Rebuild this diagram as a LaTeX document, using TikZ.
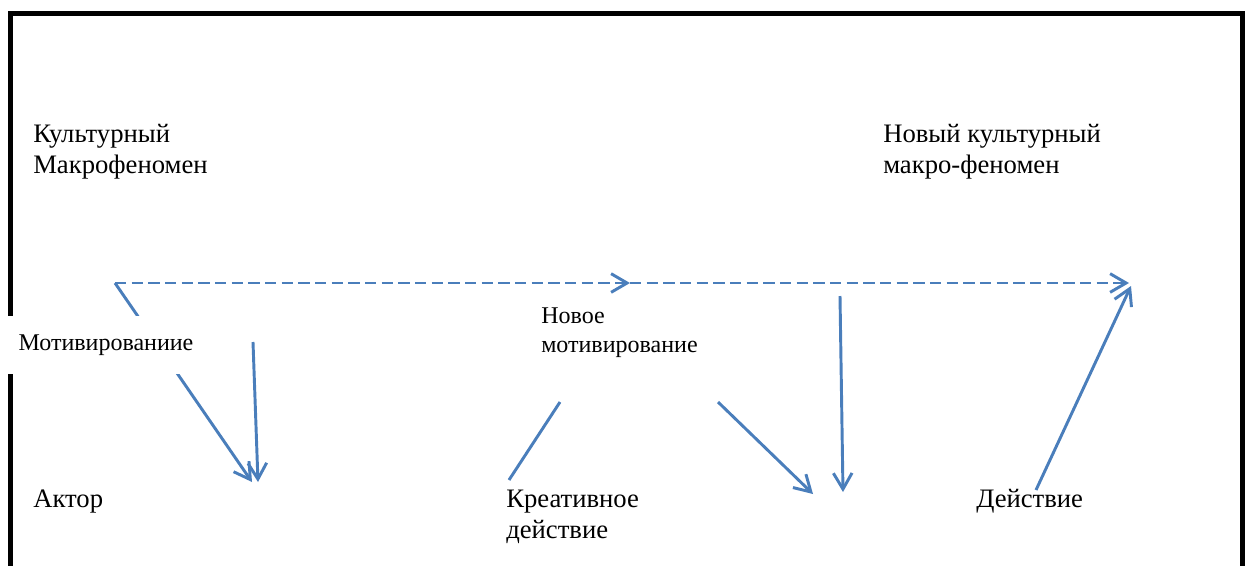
\documentclass[tikz,border=0pt]{standalone}
\usepackage{fontspec}
\setmainfont{Liberation Serif}
\usepackage{tikz}
\usetikzlibrary{arrows.meta}

\definecolor{linieblau}{RGB}{74,126,187}

\begin{document}
\begin{tikzpicture}[x=0.75pt,y=-0.75pt,
		pfeil/.style={draw=linieblau,line width=2.2pt,-{Straight Barb[length=12pt,width=14pt]}},
		strich/.style={draw=linieblau,line width=2.2pt},
		gestrichelt/.style={pfeil,dash pattern=on 8.5pt off 4pt},
		gross/.style={font=\fontsize{20}{23.25}\selectfont,align=left,anchor=base west,inner sep=0pt},
		klein/.style={font=\fontsize{18}{21.75}\selectfont,align=left,anchor=base west,inner sep=0pt}]
		
		\useasboundingbox (0,0) rectangle (1249,565);
		
		%rahmen
		\draw[line width=3.75pt,line join=miter] (10.5,570) |- (1242.5,13.5) -- (1242.5,570);
		
		%punkte
		\coordinate (start) at (115,283);
		\coordinate (mitte) at (630,283);
		\coordinate (ende) at (1129,283);
		\coordinate (aktor1) at (252,482);
		\coordinate (aktor2) at (258,482);
		\coordinate (motiv) at (253,342);
		\coordinate (krea1) at (509,480);
		\coordinate (krea2) at (560,402);
		\coordinate (neu1) at (718,402);
		\coordinate (neu2) at (813,494);
		\coordinate (senk1) at (840,296);
		\coordinate (senk2) at (843,492);
		\coordinate (dejs) at (1036,490);
		\coordinate (ende2) at (1131,286);
		
		%pfeile
		\draw[gestrichelt] (start) -- (mitte);
		\draw[gestrichelt] (mitte) -- (ende);
		\draw[pfeil] (start) -- (aktor1);
		\draw[pfeil] (motiv) -- (aktor2);
		\draw[strich] (krea1) -- (krea2);
		\draw[pfeil] (neu1) -- (neu2);
		\draw[pfeil] (senk1) -- (senk2);
		\draw[pfeil] (dejs) -- (ende2);
		
		%texte (base = letzte zeile)
		\node[gross] (kultur) at (33,173) {Культурный\\Макрофеномен};
		\node[gross] (neukultur) at (883,173) {Новый культурный\\макро-феномен};
		\node[fill=white,inner sep=0pt,minimum width=150pt,minimum height=43.5pt,
			font=\fontsize{18}{21.75}\selectfont] (motivierung) at (106,345) {Мотивированиие};
		\node[klein] (neumotiv) at (541,352) {Новое\\мотивирование};
		\node[gross] (aktor) at (33,507) {Актор};
		\node[gross] (kreativ) at (506,538) {Креативное\\действие};
		\node[gross] (handlung) at (976,507) {Действие};
		
\end{tikzpicture}
\end{document}
